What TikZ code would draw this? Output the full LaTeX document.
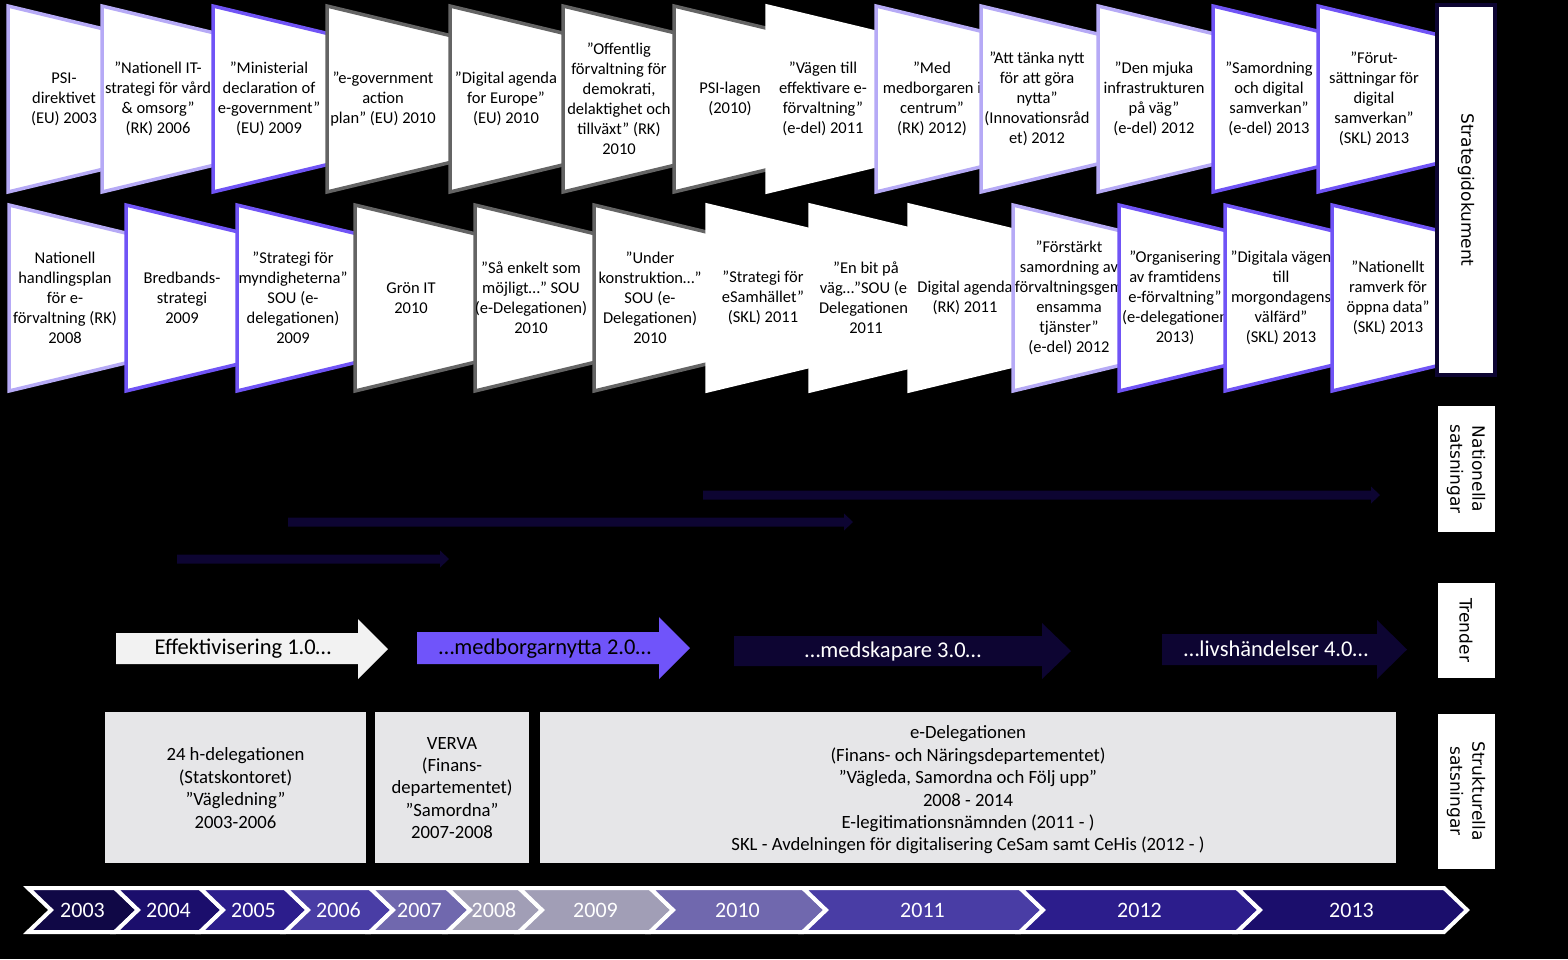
\documentclass[tikz,border=0pt]{standalone}
\usepackage{fontspec}
\setmainfont{Carlito}
\newfontfamily\dvfont{DejaVu Sans}
\definecolor{lav}{RGB}{182,170,246}
\definecolor{mpur}{RGB}{112,84,246}
\definecolor{gry}{RGB}{100,100,100}
\definecolor{navy}{RGB}{13,5,50}
\definecolor{sgray}{RGB}{230,230,232}
\definecolor{agray}{RGB}{242,242,242}
\definecolor{tpur}{RGB}{112,84,250}
\definecolor{yca}{RGB}{16,8,70}
\definecolor{ycb}{RGB}{27,14,108}
\definecolor{ycc}{RGB}{44,29,140}
\definecolor{ycd}{RGB}{73,61,165}
\definecolor{yce}{RGB}{112,104,174}
\definecolor{ycf}{RGB}{161,158,182}
\tikzset{
 doct/.style={align=center, font=\fontsize{16.5}{20}\selectfont, inner sep=0pt},
 sidet/.style={align=center, font=\dvfont\fontsize{17}{22}\selectfont, rotate=-90, inner sep=0pt},
 structt/.style={align=center, font=\fontsize{18.7}{22.4}\selectfont, inner sep=0pt},
 trendt/.style={font=\fontsize{22.5}{27}\selectfont, inner sep=0pt},
 yeart/.style={font=\fontsize{22}{26}\selectfont, text=white, inner sep=0pt},
 shapeline/.style={line width=3.5pt, fill=white, line join=miter},
}
\newcommand\docshape[5]{%
  \path[shapeline, draw=#4] (#2,#3) -- ++(125,30) -- ++(0,126) -- ++(-125,30) -- cycle;
  \node[doct] (#1) at (#2+56,#3+93) {#5};}
\newcommand\navyarrow[4]{% name, x1, x2, y
  \coordinate (#1s) at (#2,#4); \coordinate (#1e) at (#3,#4);
  \fill[navy] (#2,#4-4.5) -- (#3-9,#4-4.5) -- (#3-9,#4-8.5) -- (#3,#4) -- (#3-9,#4+8.5) -- (#3-9,#4+4.5) -- (#2,#4+4.5) -- cycle;}
\newcommand\trendarrow[9]{% name, x1, xh, xt, ybt, ybb, yht, yhb, fill
  \fill[#9] (#2,#5) -- (#3,#5) -- (#3,#7) -- (#4,#7/2+#8/2) -- (#3,#8) -- (#3,#6) -- (#2,#6) -- cycle;}
\newcommand\chev[4]{% xl, xr, color, label
  \path[fill=#3, draw=white, line width=4pt, line join=miter] (#1,888) -- (#2,888) -- (#2+23,910) -- (#2,932) -- (#1,932) -- (#1+23,910) -- cycle;
  \node[yeart] (y#4) at (#1/2+#2/2+11,910) {#4};}
\begin{document}
\begin{tikzpicture}[x=1pt,y=-1pt]
\fill[black] (0,0) rectangle (1568,959);
\useasboundingbox (0,0) rectangle (1568,959);

% ---- row 1
\docshape{a1}{8}{6}{lav}{PSI-\\direktivet\\(EU) 2003}
\docshape{a2}{102}{6}{lav}{”Nationell IT-\\strategi för vård\\\& omsorg”\\(RK) 2006}
\docshape{a3}{213}{6}{mpur}{”Ministerial\\declaration of\\e-government”\\(EU) 2009}
\docshape{a4}{327}{6}{gry}{”e-government\\action\\plan” (EU) 2010}
\docshape{a5}{450}{6}{gry}{”Digital agenda\\for Europe”\\(EU) 2010}
\docshape{a6}{563}{6}{gry}{”Offentlig\\förvaltning för\\demokrati,\\delaktighet och\\tillväxt” (RK)\\2010}
\docshape{a7}{674}{6}{gry}{PSI-lagen\\(2010)}
\docshape{a8}{767}{6}{white}{”Vägen till\\effektivare e-\\förvaltning”\\(e-del) 2011}
\docshape{a9}{876}{6}{lav}{”Med\\medborgaren i\\centrum”\\(RK) 2012)}
\docshape{a10}{981}{6}{lav}{”Att tänka nytt\\för att göra\\nytta”\\(Innovationsråd\\et) 2012}
\docshape{a11}{1098}{6}{lav}{”Den mjuka\\infrastrukturen\\på väg”\\(e-del) 2012}
\docshape{a12}{1213}{6}{mpur}{”Samordning\\och digital\\samverkan”\\(e-del) 2013}
\docshape{a13}{1318}{6}{mpur}{”Förut-\\sättningar för\\digital\\samverkan”\\(SKL) 2013}

% ---- row 2
\docshape{b1}{9}{205}{lav}{Nationell\\handlingsplan\\för e-\\förvaltning (RK)\\2008}
\docshape{b2}{126}{205}{mpur}{Bredbands-\\strategi\\2009}
\docshape{b3}{237}{205}{mpur}{”Strategi för\\myndigheterna”\\SOU (e-\\delegationen)\\2009}
\docshape{b4}{355}{205}{gry}{Grön IT\\2010}
\docshape{b5}{475}{205}{gry}{”Så enkelt som\\möjligt…” SOU\\(e-Delegationen)\\2010}
\docshape{b6}{594}{205}{gry}{”Under\\konstruktion…”\\SOU (e-\\Delegationen)\\2010}
\docshape{b7}{707}{205}{white}{”Strategi för\\eSamhället”\\(SKL) 2011}
\docshape{b8}{810}{205}{white}{”En bit på\\väg…”SOU (e-\\Delegationen)\\2011}
\docshape{b9}{909}{205}{white}{Digital agenda\\(RK) 2011}
\docshape{b10}{1013}{205}{lav}{”Förstärkt\\samordning av\\förvaltningsgem\\ensamma\\tjänster”\\(e-del) 2012}
\docshape{b11}{1119}{205}{mpur}{”Organisering\\av framtidens\\e-förvaltning”\\(e-delegationen\\2013)}
\docshape{b12}{1225}{205}{mpur}{”Digitala vägen\\till\\morgondagens\\välfärd”\\(SKL) 2013}
\docshape{b13}{1332}{205}{mpur}{”Nationellt\\ramverk för\\öppna data”\\(SKL) 2013}

% ---- side labels
\path[fill=white, draw=navy, line width=3.5pt] (1437,5) rectangle (1495,375);
\node[sidet] (lstrat) at (1466,190) {Strategidokument};
\fill[white] (1438,406) rectangle (1495,532);
\node[sidet] (lnat) at (1466,469) {Nationella\\satsningar};
\fill[white] (1438,583) rectangle (1495,678);
\node[sidet] (ltrend) at (1466,630) {Trender};
\fill[white] (1438,714) rectangle (1495,869);
\node[sidet] (lstruct) at (1466,791) {Strukturella\\satsningar};

% ---- national arrows
\navyarrow{n1}{703}{1380}{495}
\navyarrow{n2}{288}{853}{522}
\navyarrow{n3}{177}{449}{559}

% ---- trend arrows
\trendarrow{t1}{116}{358}{388}{633}{664}{619}{679}{agray}
\node[trendt] (t1) at (243,649) {Effektivisering 1.0…};
\trendarrow{t2}{417}{659}{690}{632}{664}{617}{679}{tpur}
\node[trendt] (t2) at (545,649) {…medborgarnytta 2.0…};
\trendarrow{t3}{734}{1042}{1071}{636}{666}{623}{679}{navy}
\node[trendt, text=white] (t3) at (893,651) {…medskapare 3.0…};
\trendarrow{t4}{1162}{1377}{1407}{634}{665}{620}{679}{navy}
\node[trendt, text=white] (t4) at (1276,649) {…livshändelser 4.0…};

% ---- structural boxes
\fill[sgray] (105,712) rectangle (366,863);
\node[structt] (s1) at (235.5,788) {24 h-delegationen\\(Statskontoret)\\”Vägledning”\\2003-2006};
\fill[sgray] (375,712) rectangle (529,863);
\node[structt] (s2) at (452,788) {VERVA\\(Finans-\\departementet)\\”Samordna”\\2007-2008};
\fill[sgray] (540,712) rectangle (1396,863);
\node[structt] (s3) at (968,790) {e-Delegationen\\(Finans- och Näringsdepartementet)\\”Vägleda, Samordna och Följ upp”\\2008 - 2014\\E-legitimationsnämnden (2011 - )\\SKL - Avdelningen för digitalisering CeSam samt CeHis (2012 - )};

% ---- years
\chev{28}{115}{yca}{2003}
\chev{115}{200}{ycb}{2004}
\chev{200}{285}{ycc}{2005}
\chev{285}{370}{ycd}{2006}
\chev{370}{447}{yce}{2007}
\chev{447}{519}{ycf}{2008}
\chev{519}{650}{ycf}{2009}
\chev{650}{803}{yce}{2010}
\chev{803}{1020}{ycd}{2011}
\chev{1020}{1237}{ycc}{2012}
\chev{1237}{1444}{ycb}{2013}
\end{tikzpicture}
\end{document}
